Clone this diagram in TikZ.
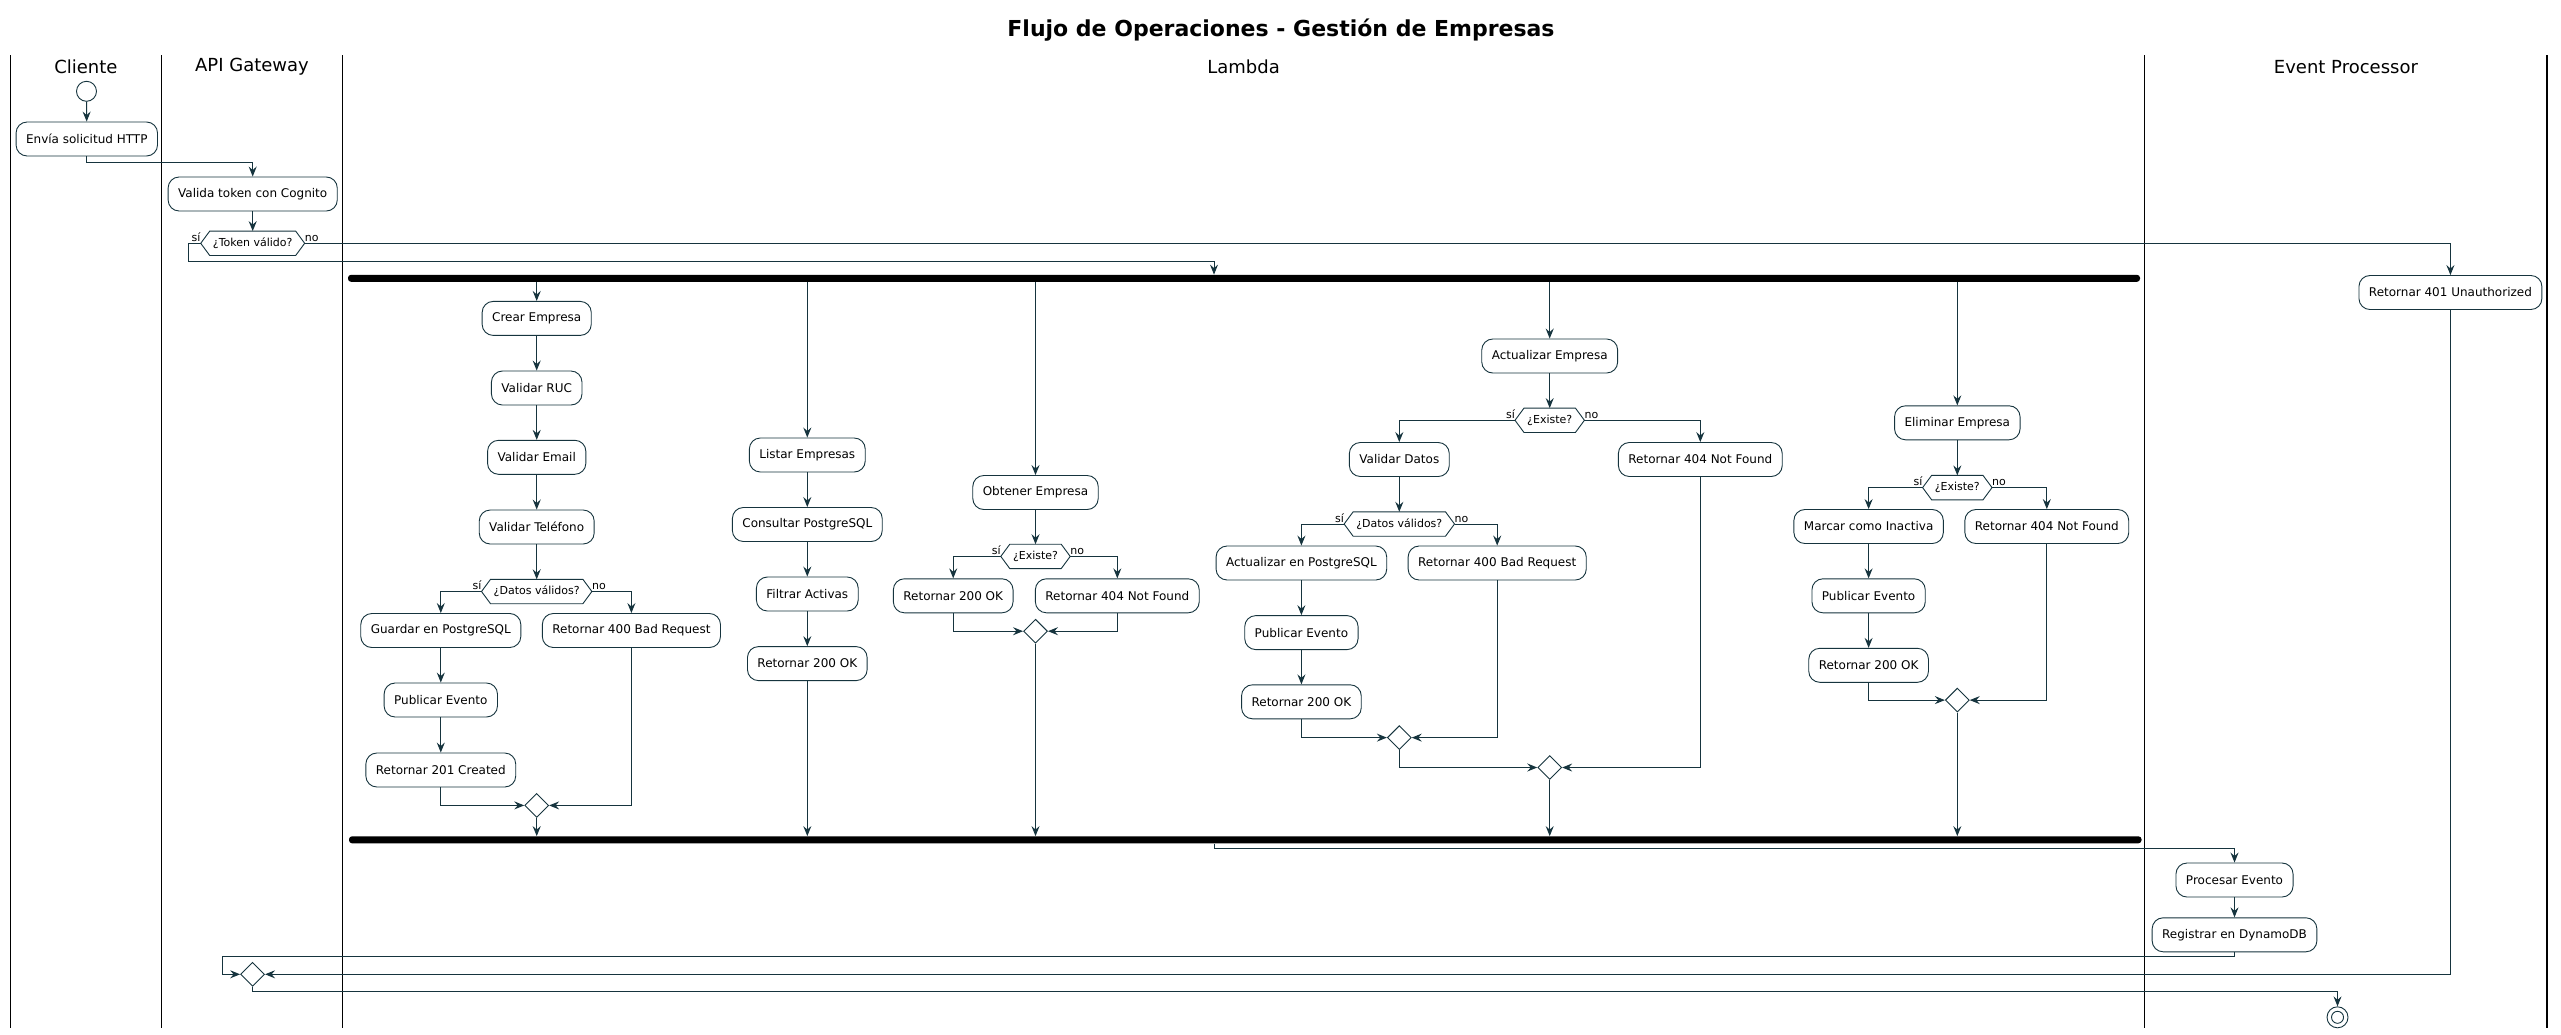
\documentclass[tikz,border=0pt]{standalone}
\usepackage{fontspec}
\setmainfont{DejaVu Sans}
\usetikzlibrary{arrows.meta,shapes.geometric}
\definecolor{lc}{HTML}{16343E}
\newcommand{\boxfont}{\fontsize{12}{14}\selectfont}
\newcommand{\decfont}{\fontsize{11}{13}\selectfont}
\newcommand{\hexdec}[4]{%
  \node[hexbox] (#1) at (#2,#3) {#4};
  \draw[boxline] (#1.west) -- ([xshift=9pt]#1.north west) -- ([xshift=-9pt]#1.north east) -- (#1.east) -- ([xshift=-9pt]#1.south east) -- ([xshift=9pt]#1.south west) -- cycle;}
\begin{document}
\begin{tikzpicture}[x=1pt,y=-1pt,
  act/.style={draw=lc, line width=0.9pt, rounded corners=11pt, fill=white, font=\boxfont, inner xsep=10pt, inner ysep=0pt, minimum height=34pt, text=black},
  hexbox/.style={font=\decfont, inner xsep=12pt, inner ysep=0pt, minimum height=24pt},
  boxline/.style={draw=lc, line width=0.9pt},
  merge/.style={diamond, draw=lc, line width=0.9pt, fill=white, minimum width=24pt, minimum height=24pt, inner sep=0pt},
  conn/.style={draw=lc, line width=1pt},
  arr/.style={conn, -{Stealth[length=10pt,width=8pt,inset=3.5pt]}},
  lbl/.style={font=\decfont, inner sep=0pt},
  lane/.style={draw=black, line width=1.3pt},
  bar/.style={fill=black, rounded corners=3pt, inner sep=0pt, minimum height=7pt},
  lanetitle/.style={font=\fontsize{18}{22}\selectfont},
]
\useasboundingbox (0,0) rectangle (2561,1034);
\fill[white] (0,0) rectangle (2561,1034);

% title
\node[font=\fontsize{22}{26}\selectfont\bfseries] (title) at (1281,30) {Flujo de Operaciones - Gestión de Empresas};

% lanes
\draw[lane] (10.3,55) -- (10.3,1028.3);
\draw[lane] (161.5,55) -- (161.5,1028.3);
\draw[lane] (342.5,55) -- (342.5,1028.3);
\draw[lane] (2144.7,55) -- (2144.7,1028.3);
\draw[lane] (2547,55) -- (2547,1028.3);
\node[lanetitle] (t1) at (85.9,67) {Cliente};
\node[lanetitle] (t2) at (252,67) {API Gateway};
\node[lanetitle] (t3) at (1243.6,67) {Lambda};
\node[lanetitle] (t4) at (2345.9,67) {Event Processor};

% Cliente / API Gateway
\node[circle, draw=lc, line width=0.9pt, fill=white, minimum size=20pt, inner sep=0pt] (start) at (86.5,91.3) {};
\node[act] (envia) at (86.8,139) {Envía solicitud HTTP};
\node[act] (valida) at (252.7,194) {Valida token con Cognito};
\hexdec{tok}{252.7}{243.3}{¿Token válido?}
\node[lbl, anchor=south east] (ltok1) at ([yshift=1.5pt]tok.west) {sí};
\node[lbl, anchor=south west] (ltok2) at ([yshift=1.5pt]tok.east) {no};

\draw[arr] (start) -- (envia);
\draw[arr] (envia.south) -- ++(0,5.7) -| (valida.north);
\draw[arr] (valida) -- (tok);

% bars
\node[bar, minimum width=1792pt] (fork) at (1244,278.3) {};
\node[bar, minimum width=1792.5pt] (join) at (1245.25,839.8) {};

\coordinate (fkin) at (1214,261.3);
\draw[arr] (tok.west) -- ++(-12,0) -- ++(0,18) -- (fkin) -- (fkin |- fork.north);

% 401
\node[act] (r401) at (2450.4,292.5) {Retornar 401 Unauthorized};
\draw[arr] (tok.east) -| (r401.north);

% Crear column
\node[act] (crear) at (536.7,318.4) {Crear Empresa};
\node[act] (vruc) at (536.7,388) {Validar RUC};
\node[act] (vemail) at (536.7,457.3) {Validar Email};
\node[act] (vtel) at (536.7,527) {Validar Teléfono};
\hexdec{dv1}{536.7}{591.5}{¿Datos válidos?}
\node[lbl, anchor=south east] (ldv1a) at ([yshift=1.5pt]dv1.west) {sí};
\node[lbl, anchor=south west] (ldv1b) at ([yshift=1.5pt]dv1.east) {no};
\node[act] (guardar) at (440.8,630.5) {Guardar en PostgreSQL};
\node[act] (r400a) at (631.4,630.5) {Retornar 400 Bad Request};
\node[act] (pub1) at (440.8,700) {Publicar Evento};
\node[act] (r201) at (440.8,770) {Retornar 201 Created};
\node[merge] (m1) at (536.7,805.4) {};

\draw[arr] (fork.south -| crear) -- (crear.north);
\draw[arr] (crear) -- (vruc);
\draw[arr] (vruc) -- (vemail);
\draw[arr] (vemail) -- (vtel);
\draw[arr] (vtel) -- (dv1);
\draw[arr] (dv1.west) -| (guardar.north);
\draw[arr] (dv1.east) -| (r400a.north);
\draw[arr] (guardar) -- (pub1);
\draw[arr] (pub1) -- (r201);
\draw[arr] (r201.south) |- (m1.west);
\draw[arr] (r400a.south) |- (m1.east);
\draw[arr] (m1.south) -- (m1.south |- join.north);

% Listar column
\node[act] (lis) at (807.3,455) {Listar Empresas};
\node[act] (cons) at (807.3,524.5) {Consultar PostgreSQL};
\node[act] (filt) at (807.3,594) {Filtrar Activas};
\node[act] (r200a) at (807.3,663.6) {Retornar 200 OK};
\draw[arr] (fork.south -| lis) -- (lis.north);
\draw[arr] (lis) -- (cons);
\draw[arr] (cons) -- (filt);
\draw[arr] (filt) -- (r200a);
\draw[arr] (r200a.south) -- (r200a.south |- join.north);

% Obtener column
\node[act] (obt) at (1035.5,492.5) {Obtener Empresa};
\hexdec{ex1}{1035.5}{556.4}{¿Existe?}
\node[lbl, anchor=south east] (lex1a) at ([yshift=1.5pt]ex1.west) {sí};
\node[lbl, anchor=south west] (lex1b) at ([yshift=1.5pt]ex1.east) {no};
\node[act] (r200b) at (953.2,595.8) {Retornar 200 OK};
\node[act] (r404a) at (1117.3,595.8) {Retornar 404 Not Found};
\node[merge] (m2) at (1035.5,631.2) {};
\draw[arr] (fork.south -| obt) -- (obt.north);
\draw[arr] (obt) -- (ex1);
\draw[arr] (ex1.west) -| (r200b.north);
\draw[arr] (ex1.east) -| (r404a.north);
\draw[arr] (r200b.south) |- (m2.west);
\draw[arr] (r404a.south) |- (m2.east);
\draw[arr] (m2.south) -- (m2.south |- join.north);

% Actualizar column
\node[act] (actu) at (1549.7,356) {Actualizar Empresa};
\hexdec{ex2}{1549.7}{420.3}{¿Existe?}
\node[lbl, anchor=south east] (lex2a) at ([yshift=1.5pt]ex2.west) {sí};
\node[lbl, anchor=south west] (lex2b) at ([yshift=1.5pt]ex2.east) {no};
\node[act] (vdat) at (1399.3,459.5) {Validar Datos};
\node[act] (r404b) at (1700.3,459.5) {Retornar 404 Not Found};
\hexdec{dv2}{1399.3}{524}{¿Datos válidos?}
\node[lbl, anchor=south east] (ldv2a) at ([yshift=1.5pt]dv2.west) {sí};
\node[lbl, anchor=south west] (ldv2b) at ([yshift=1.5pt]dv2.east) {no};
\node[act] (actpg) at (1301.4,563) {Actualizar en PostgreSQL};
\node[act] (r400b) at (1497.2,563) {Retornar 400 Bad Request};
\node[act] (pub2) at (1301.4,632.6) {Publicar Evento};
\node[act] (r200c) at (1301.4,701.8) {Retornar 200 OK};
\node[merge] (m3) at (1399.3,737.6) {};
\node[merge] (m4) at (1549.7,767.5) {};
\draw[arr] (fork.south -| actu) -- (actu.north);
\draw[arr] (actu) -- (ex2);
\draw[arr] (ex2.west) -| (vdat.north);
\draw[arr] (ex2.east) -| (r404b.north);
\draw[arr] (vdat) -- (dv2);
\draw[arr] (dv2.west) -| (actpg.north);
\draw[arr] (dv2.east) -| (r400b.north);
\draw[arr] (actpg) -- (pub2);
\draw[arr] (pub2) -- (r200c);
\draw[arr] (r200c.south) |- (m3.west);
\draw[arr] (r400b.south) |- (m3.east);
\draw[arr] (m3.south) |- (m4.west);
\draw[arr] (r404b.south) |- (m4.east);
\draw[arr] (m4.south) -- (m4.south |- join.north);

% Eliminar column
\node[act] (elim) at (1957.3,422.8) {Eliminar Empresa};
\hexdec{ex3}{1957.3}{487.6}{¿Existe?}
\node[lbl, anchor=south east] (lex3a) at ([yshift=1.5pt]ex3.west) {sí};
\node[lbl, anchor=south west] (lex3b) at ([yshift=1.5pt]ex3.east) {no};
\node[act] (marcar) at (1868.6,526.5) {Marcar como Inactiva};
\node[act] (r404c) at (2046.8,526.5) {Retornar 404 Not Found};
\node[act] (pub3) at (1868.6,595.8) {Publicar Evento};
\node[act] (r200d) at (1868.6,665.3) {Retornar 200 OK};
\node[merge] (m5) at (1957.3,700.1) {};
\draw[arr] (fork.south -| elim) -- (elim.north);
\draw[arr] (elim) -- (ex3);
\draw[arr] (ex3.west) -| (marcar.north);
\draw[arr] (ex3.east) -| (r404c.north);
\draw[arr] (marcar) -- (pub3);
\draw[arr] (pub3) -- (r200d);
\draw[arr] (r200d.south) |- (m5.west);
\draw[arr] (r404c.south) |- (m5.east);
\draw[arr] (m5.south) -- (m5.south |- join.north);

% Event Processor
\node[act] (proc) at (2234.5,880) {Procesar Evento};
\node[act] (reg) at (2234.5,934.8) {Registrar en DynamoDB};
\coordinate (jo) at (1214.6,848.3);
\draw[arr] (jo |- join.south) -- (jo) -| (proc.north);
\draw[arr] (proc) -- (reg);

% final merge and end
\node[merge] (mf) at (252.6,974.3) {};
\coordinate (rl) at (222.7,956.3);
\draw[arr] (reg.south) |- (rl) |- (mf.west);
\draw[arr] (r401.south) |- (mf.east);
\node[circle, draw=lc, line width=0.9pt, fill=white, minimum size=21pt, inner sep=0pt] (endc) at (2337.5,1017.3) {};
\node[circle, draw=lc, line width=0.9pt, minimum size=12pt, inner sep=0pt] (endin) at (endc.center) {};
\coordinate (ee) at (2337.5,991.3);
\draw[arr] (mf.south) |- (ee) -- (endc.north);
\end{tikzpicture}
\end{document}
